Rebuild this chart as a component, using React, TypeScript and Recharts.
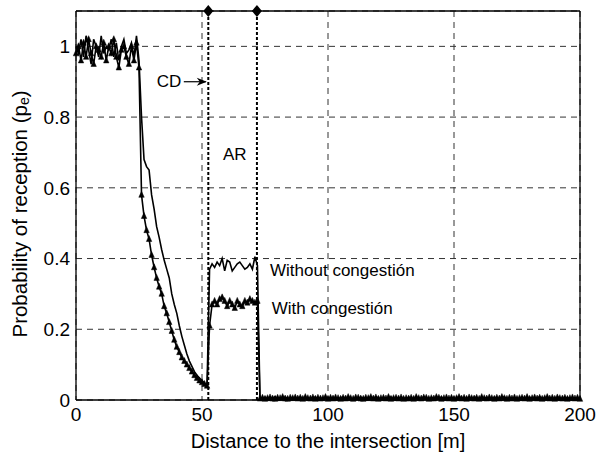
import React from 'react';
import { LineChart, Line, XAxis, YAxis, CartesianGrid, ReferenceLine, ReferenceDot } from 'recharts';

// Distance samples [m], 1 m apart
const distances: number[] = Array.from({ length: 201 }, (_, i) => i);

const xTicks = [0, 50, 100, 150, 200];
const yTicks = [0, 0.2, 0.4, 0.6, 0.8, 1];

// Without congestión (plain line)
const withoutHead = [
  1.0, 0.98, 1.02, 0.97, 1.03, 0.99, 0.95, 1.02, 1.0, 0.97,
  1.03, 0.98, 1.0, 0.99, 1.02, 0.97, 1.01, 0.96, 1.0, 1.02,
  0.98, 0.99, 1.01, 0.97, 1.03, 0.96,
];
const withoutDrop = [
  0.8, 0.68, 0.66, 0.65, 0.58, 0.54, 0.49, 0.46, 0.425, 0.395,
  0.37, 0.345, 0.3, 0.27, 0.245, 0.21, 0.18, 0.155, 0.13, 0.11,
  0.095, 0.08, 0.07, 0.062, 0.055, 0.047, 0.038,
];
const withoutPlateau = [
  0.37, 0.385, 0.375, 0.39, 0.38, 0.4, 0.365, 0.395, 0.39, 0.365,
  0.375, 0.385, 0.39, 0.38, 0.37, 0.375, 0.385, 0.37, 0.405, 0.38,
];
const withoutTail = [
  0.006, 0.004, 0.008, 0.003, 0.007, 0.005, 0.009, 0.004, 0.006, 0.003,
  0.008, 0.005, 0.004, 0.007, 0.003, 0.006, 0.009, 0.004, 0.005, 0.007,
  0.003, 0.006, 0.008, 0.004, 0.005, 0.003, 0.007, 0.006, 0.004, 0.008,
  0.005, 0.003, 0.006, 0.009, 0.004, 0.007, 0.005, 0.003, 0.006, 0.004,
  0.008, 0.005, 0.007, 0.003, 0.006, 0.004, 0.009, 0.005, 0.003, 0.007,
  0.004, 0.006, 0.008, 0.003, 0.005, 0.007, 0.004, 0.006, 0.003, 0.008,
  0.005, 0.004, 0.007, 0.006, 0.003, 0.009, 0.005, 0.004, 0.006, 0.007,
  0.003, 0.005, 0.008, 0.004, 0.006, 0.003, 0.007, 0.005, 0.004, 0.009,
  0.006, 0.003, 0.005, 0.007, 0.004, 0.008, 0.006, 0.003, 0.005, 0.004,
  0.007, 0.006, 0.003, 0.008, 0.005, 0.004, 0.006, 0.009, 0.003, 0.005,
  0.007, 0.004, 0.006, 0.003, 0.008, 0.005, 0.004, 0.007, 0.006, 0.003,
  0.005, 0.009, 0.004, 0.006, 0.003, 0.007, 0.005, 0.004, 0.008, 0.006,
  0.003, 0.005, 0.007, 0.004, 0.006, 0.003, 0.005, 0.004,
];

// With congestión (line with triangles)
const withHead = [
  0.98, 1.0, 0.96, 1.01, 0.97, 1.02, 0.98, 0.95, 1.0, 0.99,
  0.97, 1.01, 0.96, 1.0, 0.98, 1.02, 0.97, 0.94, 0.99, 1.0,
  0.97, 0.95, 1.0, 0.96, 1.01, 0.94,
];
const withDrop = [
  0.58, 0.52, 0.48, 0.455, 0.41, 0.375, 0.345, 0.32, 0.3, 0.265,
  0.245, 0.22, 0.195, 0.17, 0.15, 0.135, 0.12, 0.11, 0.1, 0.09,
  0.08, 0.07, 0.062, 0.055, 0.05, 0.045, 0.04,
];
const withPlateau = [
  0.21, 0.27, 0.28, 0.27, 0.285, 0.29, 0.28, 0.265, 0.28, 0.27,
  0.26, 0.28, 0.27, 0.265, 0.28, 0.275, 0.285, 0.28, 0.275, 0.28,
];
const withTail = [
  0.004, 0.006, 0.003, 0.005, 0.007, 0.004, 0.003, 0.006, 0.005, 0.008,
  0.004, 0.003, 0.006, 0.005, 0.007, 0.004, 0.006, 0.003, 0.008, 0.005,
  0.004, 0.007, 0.003, 0.006, 0.004, 0.005, 0.008, 0.003, 0.006, 0.004,
  0.007, 0.005, 0.003, 0.006, 0.004, 0.008, 0.005, 0.003, 0.007, 0.006,
  0.004, 0.003, 0.006, 0.005, 0.008, 0.004, 0.007, 0.003, 0.005, 0.006,
  0.004, 0.008, 0.003, 0.005, 0.006, 0.004, 0.007, 0.003, 0.005, 0.004,
  0.006, 0.003, 0.008, 0.005, 0.004, 0.007, 0.006, 0.003, 0.005, 0.004,
  0.008, 0.006, 0.003, 0.005, 0.007, 0.004, 0.006, 0.003, 0.005, 0.008,
  0.004, 0.006, 0.003, 0.007, 0.005, 0.004, 0.006, 0.003, 0.008, 0.005,
  0.004, 0.007, 0.005, 0.003, 0.006, 0.004, 0.008, 0.005, 0.003, 0.006,
  0.004, 0.007, 0.003, 0.005, 0.006, 0.004, 0.008, 0.003, 0.005, 0.007,
  0.004, 0.006, 0.003, 0.005, 0.008, 0.004, 0.006, 0.003, 0.007, 0.005,
  0.004, 0.006, 0.003, 0.005, 0.007, 0.004, 0.006, 0.003,
];

const withoutCongestion = [...withoutHead, ...withoutDrop, ...withoutPlateau, ...withoutTail];
const withCongestion = [...withHead, ...withDrop, ...withPlateau, ...withTail];

const data = distances.map((d, i) => ({
  d,
  without: withoutCongestion[i],
  withC: withCongestion[i],
}));

// Markers for the CD / AR boundaries
const boundaryX = [52.5, 71.8];
const boundaryTop = 1.1;

const FONT = '"Liberation Sans", Arial, Helvetica, sans-serif';

const Triangle = (props: any) => {
  const { cx, cy } = props;
  if (cx == null || cy == null) return null;
  return (
    <path
      key={`t-${cx}-${cy}`}
      d={`M${cx},${cy - 3.6} L${cx + 2.7},${cy + 2.4} L${cx - 2.7},${cy + 2.4} Z`}
      fill="#000"
      stroke="#000"
      strokeWidth={0.5}
    />
  );
};

const Diamond = (props: any) => {
  const { cx, cy } = props;
  return <path d={`M${cx},${cy - 6} L${cx + 5},${cy} L${cx},${cy + 6} L${cx - 5},${cy} Z`} fill="#000" />;
};

const textShape = (label: string, anchor: 'start' | 'middle' | 'end') => (props: any) => {
  const { cx, cy } = props;
  return (
    <text x={cx} y={cy} textAnchor={anchor} dominantBaseline="central" fontSize={17} fontFamily={FONT} fill="#000">
      {label}
    </text>
  );
};

const ArrowShape = (props: any) => {
  const { cx, cy } = props;
  return (
    <g>
      <line x1={cx - 24} y1={cy} x2={cx - 2} y2={cy} stroke="#000" strokeWidth={1.2} />
      <path d={`M${cx - 1},${cy} L${cx - 11},${cy - 4} L${cx - 8},${cy} L${cx - 11},${cy + 4} Z`} fill="#000" />
    </g>
  );
};

const YLabel = () => {
  const cx = 19;
  const cy = 214;
  return (
    <text
      transform={`translate(${cx},${cy}) rotate(-90)`}
      textAnchor="middle"
      dominantBaseline="central"
      fontSize={20.5}
      fontFamily={FONT}
      fill="#000"
    >
      Probability of reception (p
      <tspan fontSize={14} dy={5}>e</tspan>
      <tspan dy={-5}>)</tspan>
    </text>
  );
};

export default function App() {
  return (
    <div style={{ position: 'absolute', left: 0, top: 0, fontFamily: FONT, background: '#fff' }}>
      <LineChart
        width={598}
        height={453}
        data={data}
        margin={{ top: 11, right: 18, bottom: 0, left: 0 }}
      >
        <CartesianGrid stroke="#333" strokeDasharray="6 5" strokeWidth={1} />
        <XAxis
          dataKey="d"
          type="number"
          domain={[0, 200]}
          ticks={xTicks}
          tickLine={false}
          tickSize={0}
          tickMargin={8}
          height={53}
          axisLine={{ stroke: '#000', strokeWidth: 1.3 }}
          tick={{ fontSize: 19, fill: '#000', fontFamily: FONT }}
          label={{
            value: 'Distance to the intersection [m]',
            position: 'insideBottom',
            offset: 5,
            fontSize: 20,
            fill: '#000',
            fontFamily: FONT,
          }}
        />
        <YAxis
          type="number"
          domain={[0, 1.1]}
          ticks={yTicks}
          width={76}
          tickLine={false}
          tickSize={0}
          tickMargin={6}
          axisLine={{ stroke: '#000', strokeWidth: 1.3 }}
          tick={{ fontSize: 19, fill: '#000', fontFamily: FONT }}
          label={<YLabel />}
        />
        <ReferenceLine y={1.1} stroke="#000" strokeWidth={1.3} />
        <ReferenceLine x={200} stroke="#000" strokeWidth={1.3} />
        {boundaryX.map((bx) => (
          <ReferenceLine key={`b-${bx}`} x={bx} stroke="#000" strokeWidth={2} strokeDasharray="3 2" />
        ))}
        <Line
          type="linear"
          dataKey="without"
          stroke="#000"
          strokeWidth={1.6}
          dot={false}
          isAnimationActive={false}
        />
        <Line
          type="linear"
          dataKey="withC"
          stroke="#000"
          strokeWidth={1.6}
          dot={<Triangle />}
          isAnimationActive={false}
        />
        {boundaryX.map((bx) => (
          <ReferenceDot key={`d-${bx}`} x={bx} y={boundaryTop} r={0} ifOverflow="visible" shape={Diamond} />
        ))}
        <ReferenceDot x={41.8} y={0.9} r={0} shape={textShape('CD', 'end')} />
        <ReferenceDot x={52.3} y={0.9} r={0} shape={ArrowShape} />
        <ReferenceDot x={63} y={0.694} r={0} shape={textShape('AR', 'middle')} />
        <ReferenceDot x={77} y={0.365} r={0} shape={textShape('Without congestión', 'start')} />
        <ReferenceDot x={77.7} y={0.26} r={0} shape={textShape('With congestión', 'start')} />
      </LineChart>
    </div>
  );
}
